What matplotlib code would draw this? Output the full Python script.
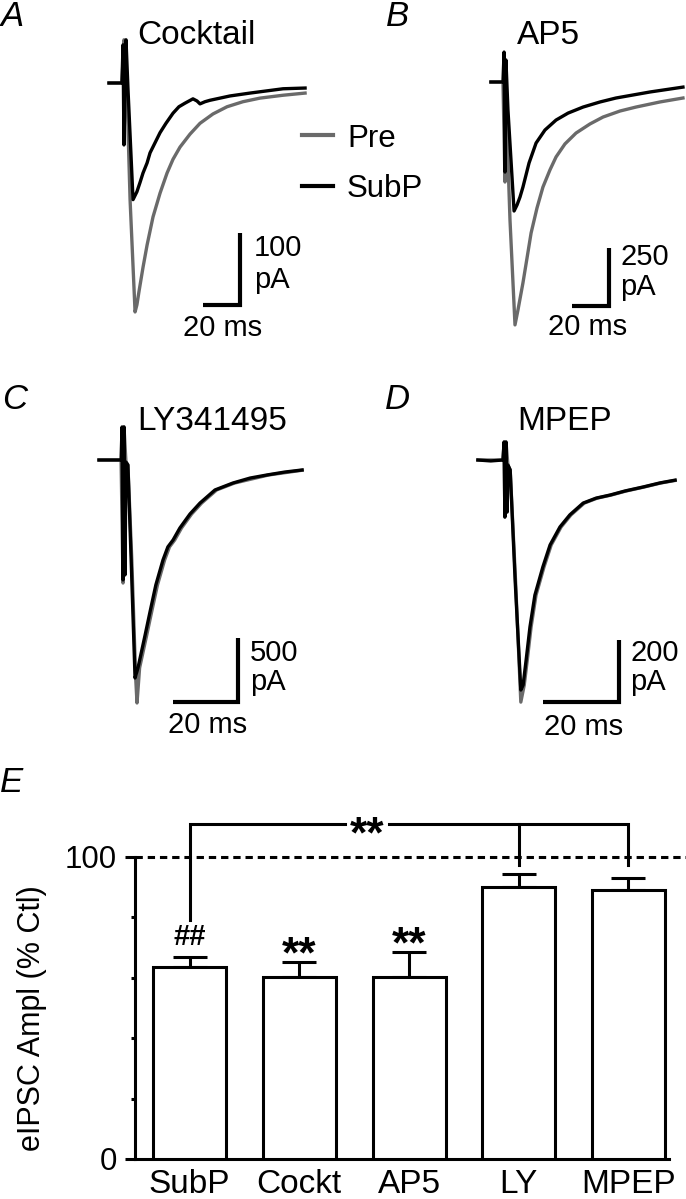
import numpy as np
import matplotlib
matplotlib.use("Agg")
import matplotlib.pyplot as plt
from matplotlib.lines import Line2D

plt.rcParams['font.family'] = ['Liberation Sans', 'DejaVu Sans']

# ---- traces (time in ms from stimulus, current in pA) ----
# A: cocktail
a_pre_t = [-9.2, -2.2, -1.1, 0.0, 2.2, 4.9, 5.9, 7.0, 9.2, 11.4, 14.6, 18.4, 22.2, 25.4, 29.2,
           34.6, 40.0, 47.0, 54.6, 63.2, 72.4, 84.9, 96.8]
a_pre_i = [0, 0, 60, 32, -162, -318, -308, -290, -256, -225, -186, -153, -125, -106, -89,
           -71, -56, -43, -33, -26, -21, -17, -14]
a_sub_t = [-9.2, -2.2, -1.6, -1.1, 0.0, 1.1, 3.8, 5.9, 7.6, 9.2, 11.4, 13.0, 15.7, 18.4, 21.6,
           25.4, 28.6, 31.9, 36.2, 38.4, 40.0, 42.7, 45.4, 56.2, 67.0, 84.9, 96.8]
a_sub_i = [0, 0, 53, -86, 60, -10, -162, -151, -138, -125, -111, -97, -83, -69, -56,
           -42, -33, -28, -22, -25, -29, -26, -24, -18, -14, -8, -7]

# B: AP5
b_pre_t = [-7.6, -1.1, 0.0, 0.5, 2.7, 5.4, 7.0, 9.7, 11.9, 14.1, 17.3, 20.5, 24.3, 27.6, 32.4,
           38.4, 45.9, 53.0, 62.2, 70.8, 83.8, 96.2]
b_pre_i = [0, 0, -431, -78, -595, -1047, -983, -866, -759, -651, -543, -453, -379, -323, -267,
           -220, -181, -151, -125, -108, -86, -69]
b_sub_t = [-7.6, -1.1, -0.5, 0.0, 0.5, 1.6, 4.9, 6.5, 8.1, 9.7, 13.0, 16.8, 21.6, 27.6, 34.1,
           42.2, 51.4, 60.0, 69.2, 78.4, 96.2]
b_sub_i = [0, 0, 129, -388, 95, -121, -556, -530, -496, -453, -349, -263, -207, -164, -134,
           -108, -86, -69, -56, -43, -22]

# C: LY341495
c_pre_t = [-7.7, -0.9, -0.3, 0.0, 0.6, 1.2, 2.4, 3.6, 4.0, 4.8, 7.0, 8.5, 10.3, 12.5, 14.0,
           15.6, 17.7, 20.8, 23.9, 28.5, 34.0, 44.5, 54.8]
c_pre_i = [0, 0, -961, 258, -16, -39, -781, -1703, -1898, -1624, -1367, -1187, -976, -781, -679,
           -625, -531, -422, -336, -234, -180, -117, -80]
c_sub_t = [-7.7, -0.9, -0.6, -0.3, 0.0, 0.3, 0.6, 1.2, 2.2, 3.4, 4.3, 6.5, 8.0, 9.8, 12.0,
           13.5, 15.1, 17.2, 20.3, 23.4, 28.0, 33.5, 38.8, 44.0, 49.5, 54.8]
c_sub_i = [0, 0, 258, -937, 258, -898, -16, -39, -781, -1703, -1624, -1367, -1187, -976, -781,
           -679, -625, -531, -422, -336, -234, -180, -141, -117, -94, -78]

# D: MPEP
d_pre_t = [-7.4, -0.8, -0.5, -0.3, 0.0, 0.5, 1.1, 2.5, 3.9, 4.8, 5.6, 6.6, 7.9, 10.0, 11.9,
           14.5, 17.1, 20.6, 24.0, 27.7, 31.6, 36.4, 40.8, 44.5]
d_pre_i = [0, 0, 58, -184, 58, -16, -32, -387, -781, -726, -645, -539, -436, -345, -274,
           -216, -177, -139, -123, -113, -100, -87, -74, -66]
d_sub_t = [-7.4, -4.0, -0.8, -0.5, -0.3, 0.0, 0.3, 0.5, 1.1, 2.4, 3.9, 4.5, 5.3, 6.3, 7.6,
           9.7, 11.6, 14.2, 16.8, 20.3, 23.7, 27.4, 31.3, 36.1, 40.5, 44.5]
d_sub_i = [0, -3, 0, 58, -184, 58, -168, -16, -32, -387, -742, -726, -645, -539, -436,
           -345, -274, -216, -177, -139, -123, -113, -100, -87, -74, -65]

panel_names = ["Cocktail", "AP5", "LY341495", "MPEP"]
scale_ms = 20
scale_pa = [100, 250, 500, 200]

# ---- summary bars ----
groups = ["SubP", "Cockt", "AP5", "LY", "MPEP"]
ampl = [63.6, 60.3, 60.3, 90.1, 89.1]
sem = [3.3, 4.9, 8.2, 4.3, 3.9]
marks = ["##", "**", "**", "", ""]

W, H = 686, 1199
fig = plt.figure(figsize=(W / 100, H / 100), dpi=100)
GRAY = '#6a6a6a'


def px_axes(x0, y0, x1, y1):
    return fig.add_axes([x0 / W, 1 - y1 / H, (x1 - x0) / W, (y1 - y0) / H])


def ftext(x, y, s, **kw):
    kw.setdefault('va', 'center')
    return fig.text(x / W, 1 - y / H, s, **kw)


# panel boxes (px), stimulus origin (px), px per ms, px per pA, scale bar corner (px)
panels = [
    dict(box=(95, 30, 343, 345), org=(126, 83), sx=1.85, sy=0.72, corner=(240, 305),
         pre=(a_pre_t, a_pre_i), sub=(a_sub_t, a_sub_i)),
    dict(box=(480, 30, 686, 345), org=(505, 82), sx=1.85, sy=0.232, corner=(609, 306),
         pre=(b_pre_t, b_pre_i), sub=(b_sub_t, b_sub_i)),
    dict(box=(90, 410, 343, 745), org=(124, 460), sx=3.25, sy=0.128, corner=(238, 702),
         pre=(c_pre_t, c_pre_i), sub=(c_sub_t, c_sub_i)),
    dict(box=(470, 410, 686, 745), org=(506, 460), sx=3.8, sy=0.31, corner=(619, 702),
         pre=(d_pre_t, d_pre_i), sub=(d_sub_t, d_sub_i)),
]

for k, p in enumerate(panels):
    x0, y0, x1, y1 = p['box']
    ox, oy = p['org']
    sx, sy = p['sx'], p['sy']
    ax = px_axes(x0, y0, x1, y1)
    ax.set_xlim((x0 - ox) / sx, (x1 - ox) / sx)
    ax.set_ylim((oy - y1) / sy, (oy - y0) / sy)
    ax.axis('off')
    ax.plot(*p['pre'], color=GRAY, lw=2.4, solid_joinstyle='round', clip_on=False)
    ax.plot(*p['sub'], color='black', lw=2.4, solid_joinstyle='round', clip_on=False)
    cx, cy = p['corner']
    ct, ci = (cx - ox) / sx, (oy - cy) / sy
    ax.plot([ct - scale_ms, ct, ct], [ci, ci, ci + scale_pa[k]], color='black', lw=3,
            solid_joinstyle='miter', solid_capstyle='butt', clip_on=False)

# panel letters and titles
for lab, (x, y) in zip("ABCDE", [(1, 17), (386, 17), (2, 400), (385, 400), (0, 782)]):
    ftext(x, y, lab, fontsize=25, style='italic', ha='left')
for name, (x, y) in zip(panel_names, [(137, 35), (517, 35), (137, 422), (517, 422)]):
    ftext(x, y, name, fontsize=24, ha='left')

# scale bar labels
sb_txt = [(254, 248, 280, 223, 328), (620, 257, 287, 588, 327),
          (250, 653, 682, 208, 725), (630, 653, 682, 584, 727)]
for k, (tx, ty1, ty2, mx, my) in enumerate(sb_txt):
    ftext(tx, ty1, str(scale_pa[k]), fontsize=21, ha='left')
    ftext(tx, ty2, "pA", fontsize=21, ha='left')
    ftext(mx, my, f"{scale_ms} ms", fontsize=21, ha='center')

# legend
fig.add_artist(Line2D([302 / W, 333 / W], [1 - 135 / H, 1 - 135 / H], color=GRAY, lw=3))
fig.add_artist(Line2D([302 / W, 333 / W], [1 - 186 / H, 1 - 186 / H], color='black', lw=3))
ftext(347, 139, "Pre", fontsize=22.5, ha='left')
ftext(347, 189, "SubP", fontsize=22.5, ha='left')

# ---- panel E ----
axe = px_axes(135, 796.6, 686, 1159)
x = np.arange(len(groups))
axe.bar(x, ampl, width=0.665, color='white', edgecolor='black', linewidth=2.2, zorder=3)
axe.errorbar(x, ampl, yerr=[np.zeros(len(sem)), sem], fmt='none', ecolor='black',
             elinewidth=2.2, capsize=12, capthick=2.2, zorder=2)
axe.set_xlim(-0.497, 4.524)
axe.set_ylim(0, 120)
axe.axhline(100, color='black', lw=2.2, dashes=(2.4, 1.6), zorder=1)
for s in ['top', 'right']:
    axe.spines[s].set_visible(False)
axe.spines['left'].set_bounds(0, 100)
axe.spines['bottom'].set_bounds(-0.497, 4.37)
for s in ['left', 'bottom']:
    axe.spines[s].set_linewidth(2.2)
axe.set_yticks([0, 100])
axe.set_yticks([20, 40, 60, 80], minor=True)
axe.tick_params(axis='y', which='major', length=7, width=2.2, labelsize=22.5, pad=6)
axe.tick_params(axis='y', which='minor', length=3, width=2.2)
axe.set_xticks(x)
axe.set_xticklabels(groups)
axe.tick_params(axis='x', length=0, labelsize=24, pad=7)
axe.set_ylabel("eIPSC Ampl (% Ctl)", fontsize=22)
axe.yaxis.set_label_coords(-0.16, 0.39)

for i, m in enumerate(marks):
    if m:
        fs = 21 if m == "##" else 32
        yoff = 6.5 if m == "##" else 2.0
        axe.text(x[i], ampl[i] + sem[i] + yoff, m, ha='center', va='center', fontsize=fs,
                 fontweight='bold')

# comparison bracket SubP vs LY/MPEP, with a gap for the label
br_y = 110.9
gap = (1.42, 1.82)
axe.plot([0, 0, gap[0]], [79.1, br_y, br_y], color='black', lw=2.2, clip_on=False,
         solid_joinstyle='miter')
axe.plot([gap[1], 4, 4], [br_y, br_y, 97.4], color='black', lw=2.2, clip_on=False,
         solid_joinstyle='miter')
axe.plot([3, 3], [br_y, 97.4], color='black', lw=2.2, clip_on=False)
axe.text(sum(gap) / 2, br_y - 4.0, "**", ha='center', va='center', fontsize=32,
         fontweight='bold')

fig.savefig("out.png", dpi=100)
